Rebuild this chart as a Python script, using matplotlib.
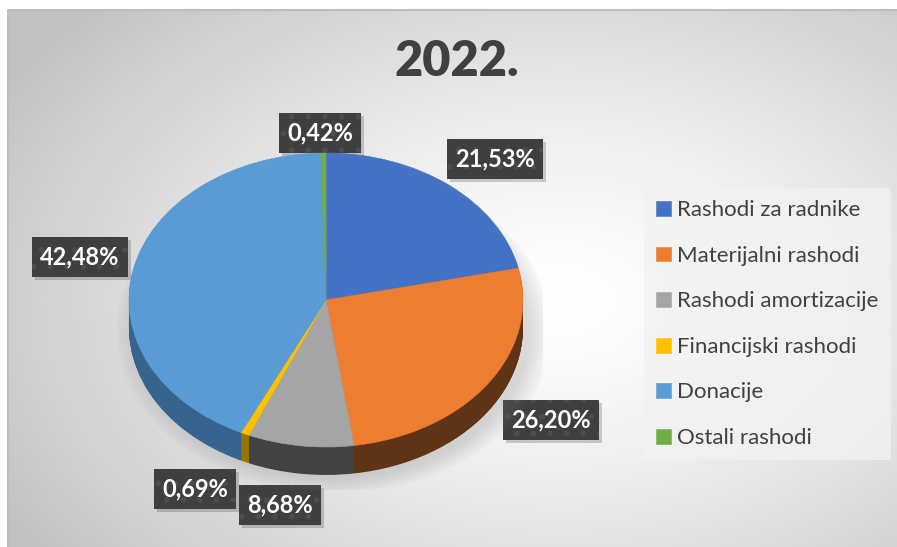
import numpy as np
import matplotlib.pyplot as plt
from matplotlib.patches import Ellipse, Rectangle

categories = ['Rashodi za radnike', 'Materijalni rashodi', 'Rashodi amortizacije',
              'Financijski rashodi', 'Donacije', 'Ostali rashodi']
shares = [21.53, 26.20, 8.68, 0.69, 42.48, 0.42]

top_colors = ['#4472C4', '#ED7D31', '#A5A5A5', '#FFC000', '#5B9BD5', '#70AD47']
side_colors = ['#2b4a80', '#5e3316', '#424242', '#9a7400', '#36648f', '#466d2c']

# label box centres (px), same order as categories
label_pos = [(495, 159), (551, 420), (280, 505), (195, 489), (80, 257), (320, 133)]

W, H = 897, 547
fig = plt.figure(figsize=(W / 100, H / 100), dpi=100)

# background with radial gradient
bg = fig.add_axes([0, 0, 1, 1])
bg.set_xlim(0, W)
bg.set_ylim(H, 0)
bg.axis('off')
yy, xx = np.mgrid[10:H, 8:W]
r = np.sqrt(((xx - 560) / 650.0) ** 2 + ((yy - 300) / 430.0) ** 2)
shade = 255 - 62 * np.clip(r, 0, 1) ** 1.4
img = np.dstack([shade, shade, shade]) / 255.0
bg.imshow(img, extent=(8, W, H, 10), aspect='auto', zorder=0)
bg.plot([8, 8, W], [H, 10, 10], color='#bdbdbd', lw=1.5, zorder=1)

# pie geometry in pixels
cx, cy = 326, 300
a, b = 197, 147
depth = 0.19
mx = 1.1
ax_left = cx - a * mx
ax_top = cy - b * mx
ax_w = 2 * a * mx
ax_h = (2 * mx + depth) * b
ax = fig.add_axes([ax_left / W, 1 - (ax_top + ax_h) / H, ax_w / W, ax_h / H])
ax.set_facecolor('none')

# soft shadow
for k in range(8):
    ax.add_patch(Ellipse((0.04, -depth - 0.02), 2.0 + 0.03 * k, 2.0 + 0.03 * k,
                         color='#808080', alpha=0.035, lw=0, zorder=0))

# extruded sides
for d in np.linspace(depth, 0.005, 40):
    ax.pie(shares, colors=side_colors, startangle=90, counterclock=False,
           center=(0, -d), radius=1, wedgeprops=dict(linewidth=0))

wedges, _ = ax.pie(shares, colors=top_colors, startangle=90, counterclock=False,
                   center=(0, 0), radius=1, wedgeprops=dict(linewidth=0.4))
for w, c in zip(wedges, top_colors):
    w.set_edgecolor(c)

ax.set_aspect('auto')
ax.set_xlim(-mx, mx)
ax.set_ylim(-mx - depth, mx)
ax.axis('off')

# title
fig.text(457 / W, 1 - 62 / H, '2022.', ha='center', va='center',
         fontsize=35, fontweight='heavy', color='#404040', family=['Lato', 'DejaVu Sans'])

# value labels
plt.rcParams['hatch.linewidth'] = 1.6
labels = []
for v, (px, py) in zip(shares, label_pos):
    txt = f'{v:.2f}%'.replace('.', ',')
    t = bg.text(px, py, txt, ha='center', va='center', fontsize=17, fontweight='bold',
                color='white', family=['Lato', 'DejaVu Sans'], zorder=5,
                bbox=dict(boxstyle='square,pad=0.34', facecolor='#3f3f3f',
                          edgecolor='#4d4d4d', linewidth=0, hatch='.'))
    labels.append(t)

# drop shadows behind the label boxes
fig.canvas.draw()
inv = bg.transData.inverted()
for t in labels:
    ext = t.get_bbox_patch().get_window_extent()
    (x0, y0), (x1, y1) = inv.transform([[ext.x0, ext.y0], [ext.x1, ext.y1]])
    bg.add_patch(Rectangle((x0 + 3, y1 + 3), x1 - x0, y0 - y1, facecolor='#000000',
                           alpha=0.18, lw=0, zorder=4))

# legend
leg = fig.legend(wedges, categories, loc='upper left',
                 bbox_to_anchor=(644 / W, 1 - 188 / H),
                 frameon=True, fancybox=False, facecolor='#f2f2f2', edgecolor='none',
                 framealpha=0.75, prop={'family': ['Lato', 'DejaVu Sans'], 'size': 16},
                 labelcolor='#404040', handlelength=0.65, handleheight=0.65,
                 handletextpad=0.3, labelspacing=1.15, borderpad=0.55, borderaxespad=0)

fig.savefig('out.png', dpi=100)
